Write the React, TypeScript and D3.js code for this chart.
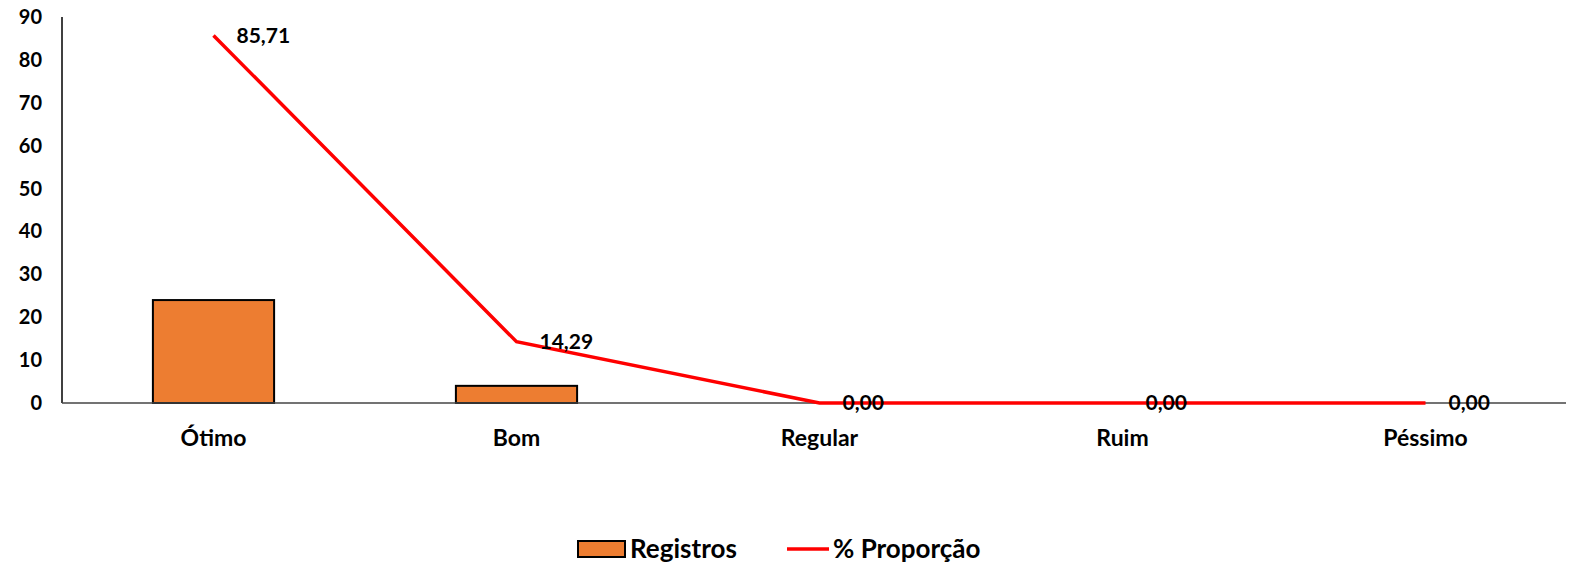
import { useEffect, useRef } from 'react';
import * as d3 from 'd3';

const categories = ['Ótimo', 'Bom', 'Regular', 'Ruim', 'Péssimo'];
const registros = [24, 4, 0, 0, 0];
const proporcao = [85.71, 14.29, 0, 0, 0];
const yTicks = [0, 10, 20, 30, 40, 50, 60, 70, 80, 90];

const WIDTH = 1595;
const HEIGHT = 577;
const FONT = 'Lato, "Open Sans", sans-serif';

const App: React.FC = () => {
	const ref = useRef<SVGSVGElement>(null);

	useEffect(() => {
		if (!ref.current) return;
		const svg = d3.select(ref.current);
		svg.selectAll('*').remove();

		const left = 62;
		const right = 1577;
		const top = 17;
		const bottom = 403;

		const x = d3.scaleBand().domain(categories).range([left, right]);
		const y = d3.scaleLinear().domain([0, 90]).range([bottom, top]);

		// y axis labels
		svg.append('g')
			.selectAll('text')
			.data(yTicks)
			.join('text')
			.attr('x', 42)
			.attr('y', (d) => y(d))
			.attr('dy', '0.35em')
			.attr('text-anchor', 'end')
			.style('font-family', FONT)
			.style('font-weight', 'bold')
			.style('font-size', '20px')
			.text((d) => d);

		// bars
		const barW = x.bandwidth() * 0.4;
		svg.append('g')
			.selectAll('rect')
			.data(registros)
			.join('rect')
			.attr('x', (_, i) => x(categories[i])! + (x.bandwidth() - barW) / 2)
			.attr('y', (d) => y(d))
			.attr('width', barW)
			.attr('height', (d) => bottom - y(d))
			.attr('fill', '#ED7D31')
			.attr('stroke', '#000')
			.attr('stroke-width', 2)
			.style('display', (d) => (d > 0 ? null : 'none'));

		// axes lines
		svg.append('line')
			.attr('x1', left).attr('x2', left)
			.attr('y1', top).attr('y2', bottom)
			.attr('stroke', '#000').attr('stroke-width', 1.5);
		svg.append('line')
			.attr('x1', left).attr('x2', 1566)
			.attr('y1', bottom).attr('y2', bottom)
			.attr('stroke', '#444').attr('stroke-width', 1.5);

		// line series
		const cx = (i: number) => x(categories[i])! + x.bandwidth() / 2;
		const line = d3.line<number>()
			.x((_, i) => cx(i))
			.y((d) => y(d));
		svg.append('path')
			.datum(proporcao)
			.attr('d', line)
			.attr('fill', 'none')
			.attr('stroke', '#FF0000')
			.attr('stroke-width', 3.5);

		// data labels
		svg.append('g')
			.selectAll('text')
			.data(proporcao)
			.join('text')
			.attr('x', (_, i) => cx(i) + 23)
			.attr('y', (d) => y(d))
			.attr('dy', '0.35em')
			.style('font-family', FONT)
			.style('font-weight', 'bold')
			.style('font-size', '21px')
			.text((d) => d.toFixed(2).replace('.', ','));

		// category labels
		svg.append('g')
			.selectAll('text')
			.data(categories)
			.join('text')
			.attr('x', (d) => x(d)! + x.bandwidth() / 2)
			.attr('y', 438)
			.attr('dy', '0.35em')
			.attr('text-anchor', 'middle')
			.style('font-family', FONT)
			.style('font-weight', 'bold')
			.style('font-size', '23px')
			.text((d) => d);

		// legend
		const lg = svg.append('g');
		lg.append('rect')
			.attr('x', 578).attr('y', 541)
			.attr('width', 47).attr('height', 16)
			.attr('fill', '#ED7D31').attr('stroke', '#000').attr('stroke-width', 2);
		lg.append('text')
			.attr('x', 630).attr('y', 549).attr('dy', '0.35em')
			.style('font-family', FONT).style('font-weight', 'bold').style('font-size', '26px')
			.text('Registros');
		lg.append('line')
			.attr('x1', 787).attr('x2', 829)
			.attr('y1', 549).attr('y2', 549)
			.attr('stroke', '#FF0000').attr('stroke-width', 3.5);
		lg.append('text')
			.attr('x', 833).attr('y', 549).attr('dy', '0.35em')
			.style('font-family', FONT).style('font-weight', 'bold').style('font-size', '26px')
			.text('% Proporção');
	}, []);

	return (
		<svg
			ref={ref}
			width={WIDTH}
			height={HEIGHT}
			style={{ position: 'absolute', left: 0, top: 0, background: '#fff' }}
		></svg>
	);
};

export default App;
